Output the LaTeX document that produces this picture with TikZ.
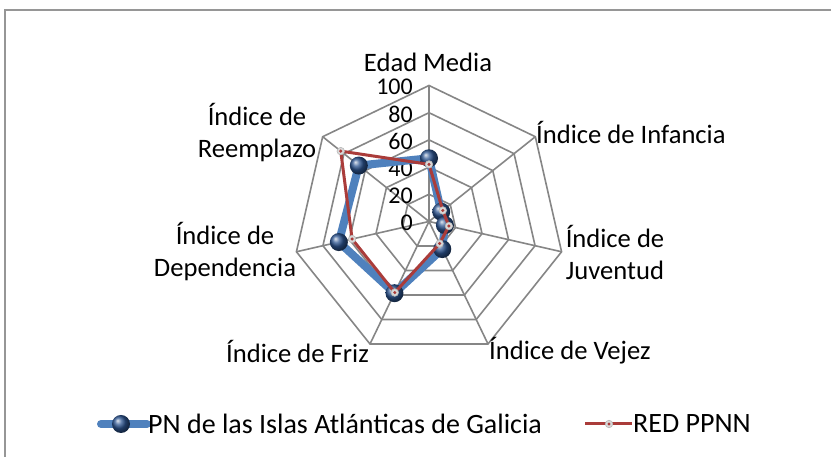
\documentclass[tikz,border=0pt]{standalone}
\usepackage{fontspec}
\setmainfont{Carlito}
\usetikzlibrary{calc}
\definecolor{gridgray}{RGB}{134,134,134}
\definecolor{serblue}{RGB}{79,129,189}
\definecolor{serred}{RGB}{170,60,58}
\definecolor{balldark}{RGB}{45,85,145}
\definecolor{framegray}{RGB}{150,150,150}
\begin{document}
\begin{tikzpicture}[x=1pt,y=1pt,
  lbl/.style={font=\fontsize{26.6}{32}\selectfont, inner sep=0pt, align=center},
  leglbl/.style={font=\fontsize{28}{32}\selectfont, inner sep=0pt, anchor=west},
  ticklbl/.style={font=\fontsize{24}{28}\selectfont, inner sep=0pt, anchor=east},
  gridline/.style={draw=gridgray, line width=1.6pt},
  blueline/.style={draw=serblue, line width=8pt, line join=round},
  redline/.style={draw=serred, line width=3pt, line join=round},
  bluemark/.style={circle, inner sep=0pt, minimum size=18pt, shading=ball, ball color=balldark},
  redmark/.style={circle, inner sep=0pt, minimum size=7.5pt, fill=gray!30, draw=gray!55, line width=0.6pt,
     path picture={\fill[serred] (path picture bounding box.center) circle (1.7pt);}},
]
\useasboundingbox (0,0) rectangle (831,457);
\fill[white] (0,0) rectangle (831,457);
\coordinate (f1) at (5,-20);
\coordinate (f2) at (5,446.5);
\coordinate (f3) at (860,446.5);
\draw[framegray, line width=2pt] (f1) -- (f2) -- (f3);

\coordinate (c) at (429,235.5);
% rings
\foreach \v in {20,40,60,80,100}
  \draw[gridline] ($(c)+(90:1.36*\v)$)
    \foreach \k in {1,...,6} { -- ($(c)+({90-\k*360/7}:1.36*\v)$) } -- cycle;
% spokes
\foreach \k in {0,...,6} {
  \coordinate (o\k) at ($(c)+({90-\k*360/7}:136)$);
  \draw[gridline] (c) -- (o\k);
}
% tick labels
\foreach \v [count=\j from 0] in {0,20,40,60,80,100}
  \node[ticklbl] (t\j) at ($(c)+(-16,{1.36*\v-1.5})$) {\v};

% category labels
\node[lbl] (cat0) at (428,395) {Edad Media};
\node[lbl, anchor=west] (cat1) at (536,325) {Índice de Infancia};
\node[lbl] (cat2) at (615,205) {Índice de\\Juventud};
\node[lbl, anchor=west] (cat3) at (489,106) {Índice de Vejez};
\node[lbl, anchor=east] (cat4) at (369,106) {Índice de Friz};
\node[lbl] (cat5) at (225,205) {Índice de\\Dependencia};
\node[lbl] (cat6) at (257,324) {Índice de\\Reemplazo};

% data
\foreach \v [count=\i from 0] in {46.5,11.5,12,22.5,58.5,68,66}
  \coordinate (b\i) at ($(c)+({90-\i*360/7}:1.36*\v)$);
\foreach \v [count=\i from 0] in {42,13,15,18,58,58,83}
  \coordinate (r\i) at ($(c)+({90-\i*360/7}:1.36*\v)$);

\draw[blueline] (b0)--(b1)--(b2)--(b3)--(b4)--(b5)--(b6)--cycle;
\foreach \i in {0,...,6} \node[bluemark] (bm\i) at (b\i) {};
\draw[redline] (r0)--(r1)--(r2)--(r3)--(r4)--(r5)--(r6)--cycle;
\foreach \i in {0,...,6} \node[redmark] (rm\i) at (r\i) {};

% legend
\coordinate (lb1) at (101,33);
\coordinate (lb2) at (147,33);
\draw[blueline, line cap=round] (lb1) -- (lb2);
\node[bluemark] (lbm) at (121,33) {};
\node[leglbl] (lbt) at (148,33) {PN de las Islas Atlánticas de Galicia};
\coordinate (lr1) at (585,33);
\coordinate (lr2) at (632,33);
\draw[redline] (lr1) -- (lr2);
\node[redmark] (lrm) at (609,33) {};
\node[leglbl] (lrt) at (633,33) {RED PPNN};
\end{tikzpicture}
\end{document}
